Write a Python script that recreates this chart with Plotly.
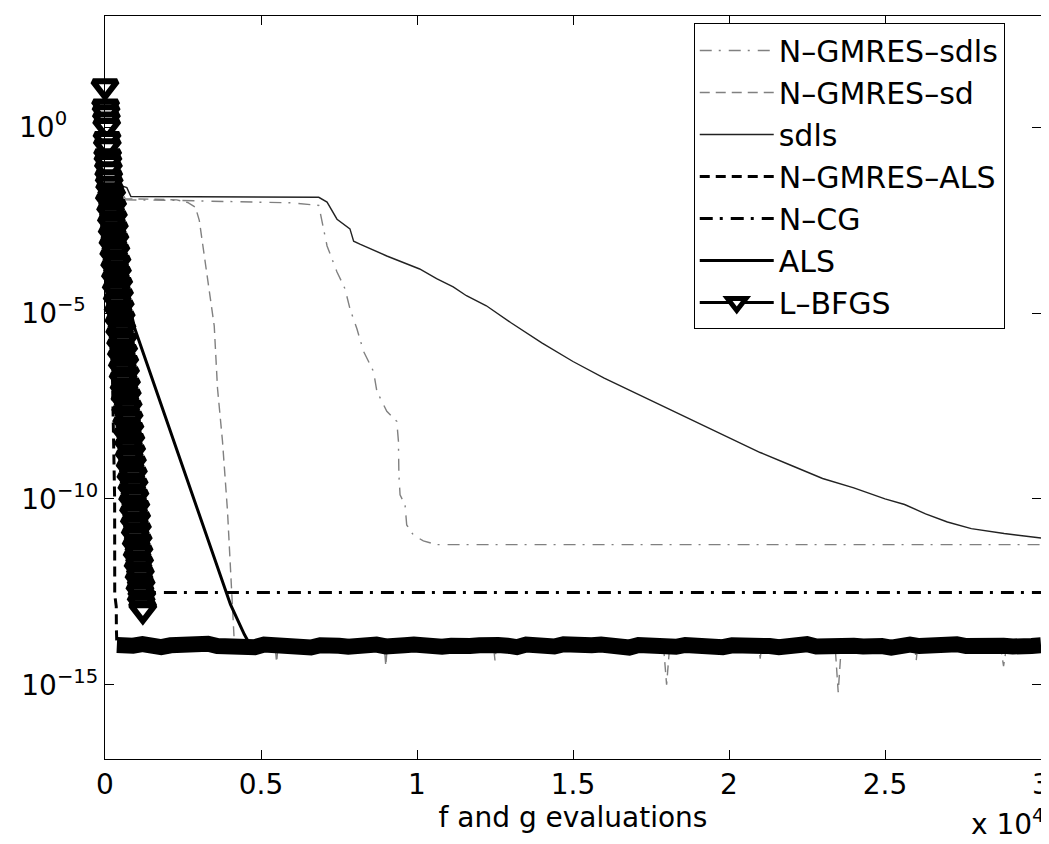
import plotly.graph_objects as go

# ---------------- data (x = f and g evaluations, values stored as log10 of the y value) -------------
X_TICKS = [0, 5000, 10000, 15000, 20000, 25000, 30000]
X_TICK_TEXT = ["0", "0.5", "1", "1.5", "2", "2.5", "3"]
Y_TICKS = [1e-15, 1e-10, 1e-5, 1]
Y_TICK_TEXT = ["10<sup>\u221215</sup>", "10<sup>\u221210</sup>",
               "10<sup>\u22125\u00a0\u00a0</sup>", "10<sup>0\u00a0\u00a0\u00a0\u00a0\u00a0</sup>"]

NGMRES_SDLS_X = [0, 250, 450, 600, 2000, 4000, 6000, 6852, 7012, 7117, 7436, 7691, 7851, 8074, 8288,
                 8607, 8713, 9032, 9351, 9405, 9420, 9457, 9617, 9670, 9883, 10202, 10628, 30000]
NGMRES_SDLS_LOG = [1.1, -0.9, -1.6, -1.95, -1.96, -1.99, -2.03, -2.1, -2.74, -3.19, -3.89, -4.34, -4.88,
                   -5.42, -6.03, -6.57, -7.10, -7.64, -7.91, -8.45, -9.35, -9.89, -10.16, -10.70, -10.97,
                   -11.13, -11.23, -11.23]

NGMRES_SD_X = [0, 250, 450, 650, 1500, 2300, 2649, 2900, 3022, 3182, 3287, 3501, 3606, 3766, 3926, 4085,
               4150, 5450, 5500, 5550, 8950, 9000, 9050, 12450, 12500, 12550, 17900, 18000, 18100,
               20950, 21000, 21050, 23400, 23500, 23600, 25950, 26000, 26050, 28700, 28800, 28900, 30000]
NGMRES_SD_LOG = [1.1, -0.9, -1.6, -1.92, -1.93, -1.95, -2.02, -2.15, -2.5, -3.46, -4.16, -5.34, -7.02,
                 -8.45, -10.32, -12.65, -13.95, -13.95, -14.4, -13.95, -13.95, -14.5, -13.95, -13.95,
                 -14.35, -13.95, -13.95, -15.0, -13.95, -13.95, -14.3, -13.95, -13.95, -15.2, -13.95,
                 -13.95, -14.35, -13.95, -13.95, -14.5, -13.95, -13.95]

SDLS_X = [0, 200, 400, 500, 560, 700, 830, 2000, 4000, 6000, 6852, 7117, 7436, 7851, 7969, 8170, 9032,
          10085, 10628, 11160, 11585, 12223, 13000, 14000, 15000, 16000, 17000, 18000, 19000, 20000,
          21000, 22000, 23000, 24000, 25000, 25628, 26300, 27000, 27766, 28819, 29681, 30000]
SDLS_LOG = [1.1, -0.6, -1.5, -1.85, -1.58, -1.62, -1.86, -1.86, -1.86, -1.87, -1.88, -2.01, -2.47, -2.73,
            -3.06, -3.14, -3.46, -3.81, -4.07, -4.29, -4.53, -4.80, -5.25, -5.80, -6.30, -6.75, -7.15,
            -7.55, -7.95, -8.35, -8.75, -9.10, -9.45, -9.70, -10.00, -10.15, -10.40, -10.62, -10.80,
            -10.93, -11.03, -11.05]

NGMRES_ALS_X = [0, 150, 200, 280, 309, 312, 361, 365, 380]
NGMRES_ALS_LOG = [1.1, -2.0, -4.9, -8.0, -10.0, -12.57, -12.9, -13.5, -13.9]

FLOOR_X = [380, 600, 900, 1200, 1500, 1800, 2100, 2400, 2700, 3000, 3300, 3600, 3900, 4200, 4500, 4800,
           5100, 5400, 5700, 6000, 6300, 6600, 6900, 7200, 7500, 7800, 8100, 8400, 8700, 9000, 9300, 9600,
           9900, 10200, 10500, 10800, 11100, 11400, 11700, 12000, 12300, 12600, 12900, 13200, 13500,
           13800, 14100, 14400, 14700, 15000, 15300, 15600, 15900, 16200, 16500, 16800, 17100, 17400,
           17700, 18000, 18300, 18600, 18900, 19200, 19500, 19800, 20100, 20400, 20700, 21000, 21300,
           21600, 21900, 22200, 22500, 22800, 23100, 23400, 23700, 24000, 24300, 24600, 24900, 25200,
           25500, 25800, 26100, 26400, 26700, 27000, 27300, 27600, 27900, 28200, 28500, 28800, 29100,
           29400, 29700, 30000]
FLOOR_LOG = [-13.93, -13.97, -13.95, -13.91, -13.96, -13.99, -13.94, -13.92, -13.97, -13.95,
             -13.90, -13.96, -13.98, -13.93, -13.95, -13.99, -13.92, -13.94, -13.97, -13.93,
             -13.96, -14.00, -13.94, -13.91, -13.95, -13.98, -13.93, -13.96, -13.92, -13.97,
             -13.99, -13.94, -13.92, -13.96, -13.93, -13.98, -13.95, -13.91, -13.96, -13.94,
             -13.98, -13.93, -13.95, -13.99, -13.92, -13.96, -13.94, -13.97, -13.91, -13.95,
             -13.98, -13.94, -13.92, -13.97, -13.95, -14.00, -13.93, -13.96, -13.92, -13.95,
             -13.98, -13.93, -13.96, -13.91, -13.95, -13.99, -13.94, -13.92, -13.97, -13.94,
             -13.96, -13.99, -13.93, -13.95, -13.91, -13.97, -13.94, -13.98, -13.92, -13.95,
             -13.97, -13.93, -13.96, -14.00, -13.94, -13.92, -13.96, -13.93, -13.98, -13.95,
             -13.91, -13.96, -13.94, -13.99, -13.93, -13.95, -13.97, -13.92, -13.96, -13.94]

NCG_X = [0, 100, 300, 550, 800, 1000, 1150, 1300, 30000]
NCG_LOG = [1.1, -1.5, -3.8, -6.5, -9.0, -11.2, -12.3, -12.52, -12.52]

ALS_X = [0, 60, 250, 957, 1915, 3000, 4021, 4468, 4600]
ALS_LOG = [1.1, -1.0, -2.9, -5.42, -7.74, -10.37, -12.84, -13.65, -13.85]

LBFGS_X = [0, 20, 35, 45, 55, 65, 75, 85, 95, 110, 120, 135,
           150, 215, 140, 245, 180, 270, 205, 300, 230, 320, 255, 350, 280, 385, 310, 400, 335, 440,
           360, 465, 390, 490, 420, 520, 445, 545, 470, 580, 500, 600, 525, 635, 555, 660, 580, 690,
           610, 715, 640, 745, 665, 775, 695, 800, 720, 830, 750, 855, 775, 880, 805, 910, 830, 935,
           860, 960, 885, 990, 915, 1015, 940, 1040, 970, 1065, 1000, 1090, 1030, 1110, 1060, 1135,
           1090, 1160, 1120, 1180, 1160, 1205, 1213]
LBFGS_LOG = [1.10, 0.56, 0.40, 0.21, 0.03, -0.32, -0.51, -0.78, -0.94, -1.13, -1.35, -1.52,
             -1.70, -1.85, -2.00, -2.15, -2.30, -2.45, -2.60, -2.75, -2.90, -3.05, -3.20, -3.35, -3.50,
             -3.65, -3.80, -3.95, -4.10, -4.25, -4.40, -4.55, -4.70, -4.85, -5.00, -5.15, -5.30, -5.45,
             -5.60, -5.75, -5.90, -6.05, -6.20, -6.35, -6.50, -6.65, -6.80, -6.95, -7.10, -7.25, -7.40,
             -7.55, -7.70, -7.85, -8.00, -8.15, -8.30, -8.45, -8.60, -8.75, -8.90, -9.05, -9.20, -9.35,
             -9.50, -9.65, -9.80, -9.95, -10.10, -10.25, -10.40, -10.55, -10.70, -10.85, -11.00,
             -11.15, -11.30, -11.45, -11.60, -11.75, -11.90, -12.05, -12.20, -12.35, -12.50, -12.65,
             -12.80, -12.95, -13.00]


def lin(vals):
    return [10 ** v for v in vals]


FONT = "DejaVu Sans, Liberation Sans, Arial, sans-serif"
GRAY = "#808080"
BLACK = "#000000"

fig = go.Figure()

fig.add_trace(go.Scatter(x=NGMRES_SDLS_X, y=lin(NGMRES_SDLS_LOG), mode="lines", name="N\u2013GMRES\u2013sdls",
                         line=dict(color=GRAY, width=1.4, dash="12px,7px,2px,8px")))
fig.add_trace(go.Scatter(x=NGMRES_SD_X, y=lin(NGMRES_SD_LOG), mode="lines", name="N\u2013GMRES\u2013sd",
                         line=dict(color=GRAY, width=1.4, dash="10px,6px")))
fig.add_trace(go.Scatter(x=SDLS_X, y=lin(SDLS_LOG), mode="lines", name="sdls",
                         line=dict(color="#222222", width=1.4)))
fig.add_trace(go.Scatter(x=NGMRES_ALS_X, y=lin(NGMRES_ALS_LOG), mode="lines", name="N\u2013GMRES\u2013ALS",
                         legendgroup="ngals", line=dict(color=BLACK, width=3, dash="10px,6px")))
fig.add_trace(go.Scatter(x=FLOOR_X, y=lin(FLOOR_LOG), mode="lines", name="N\u2013GMRES\u2013ALS",
                         legendgroup="ngals", showlegend=False, line=dict(color=BLACK, width=16)))
fig.add_trace(go.Scatter(x=NCG_X, y=lin(NCG_LOG), mode="lines", name="N\u2013CG",
                         line=dict(color=BLACK, width=3, dash="13px,7px,3px,8px")))
fig.add_trace(go.Scatter(x=ALS_X, y=lin(ALS_LOG), mode="lines", name="ALS",
                         line=dict(color=BLACK, width=3)))
fig.add_trace(go.Scatter(x=LBFGS_X, y=lin(LBFGS_LOG), mode="lines+markers", name="L\u2013BFGS",
                         cliponaxis=False,
                         line=dict(color=BLACK, width=3),
                         marker=dict(symbol="triangle-down", size=21, color="white",
                                     line=dict(color=BLACK, width=6))))

axis_common = dict(showgrid=False, zeroline=False, ticks="inside", ticklen=9, tickwidth=1,
                   tickcolor=BLACK, showline=True, linecolor=BLACK, linewidth=1.2, mirror="ticks",
                   tickfont=dict(family=FONT, size=28, color=BLACK))

fig.update_layout(
    width=1049, height=844,
    margin=dict(l=97, r=12, t=7, b=93),
    paper_bgcolor="white", plot_bgcolor="white",
    font=dict(family=FONT, size=28, color=BLACK),
    xaxis=dict(range=[0, 30000], tickvals=X_TICKS, ticktext=X_TICK_TEXT,
               title=dict(text="f and g evaluations", font=dict(family=FONT, size=28), standoff=6),
               **axis_common),
    yaxis=dict(type="log", range=[-17, 3], tickvals=Y_TICKS, ticktext=Y_TICK_TEXT, **axis_common),
    legend=dict(x=0.629, y=0.99, xanchor="left", yanchor="top", bgcolor="white",
                bordercolor=BLACK, borderwidth=1, font=dict(family=FONT, size=30, color=BLACK),
                itemwidth=74, tracegroupgap=0),
    showlegend=True,
)

fig.add_annotation(text="x 10<sup>4</sup>", xref="paper", yref="paper", x=1.006, y=-0.085,
                   xanchor="right", yanchor="middle", showarrow=False,
                   font=dict(family=FONT, size=28, color=BLACK))

fig.write_html("out.html")
